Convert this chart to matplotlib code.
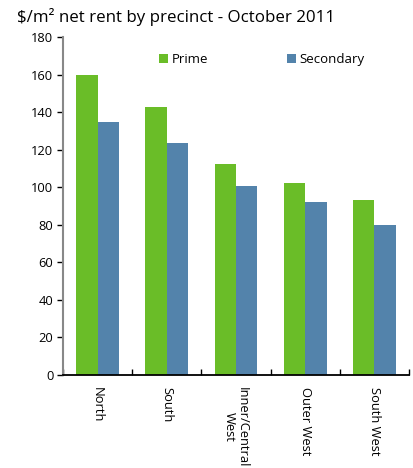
import matplotlib.pyplot as plt
import numpy as np

precincts = ["North", "South", "Inner/Central\nWest", "Outer West", "South West"]
prime = [160, 142.7, 112.2, 102.1, 93.1]
secondary = [134.6, 123.4, 100.5, 92.1, 80]
yticks = [0, 20, 40, 60, 80, 100, 120, 140, 160, 180]

green = "#6abd28"
blue = "#5383ab"

plt.rcParams["font.family"] = ["Open Sans", "DejaVu Sans"]

fig = plt.figure(figsize=(4.13, 4.68), dpi=100)
ax = fig.add_axes([63 / 413, 1 - 375 / 468, 346 / 413, 338 / 468])

x = np.arange(len(precincts))
w = 0.31
ax.bar(x - w / 2, prime, w, color=green, label="Prime")
ax.bar(x + w / 2, secondary, w, color=blue, label="Secondary")

ax.set_xlim(-0.5, len(precincts) - 0.5)
ax.set_ylim(0, 180)
ax.set_yticks(yticks)
ax.tick_params(axis="y", direction="out", length=4, width=1, labelsize=9.3, pad=3, color="black")

# category boundary ticks pointing up
ax.set_xticks(np.arange(-0.5, len(precincts), 1.0))
ax.set_xticklabels([])
ax.tick_params(axis="x", direction="in", length=4, width=1, color="black")
for xi, name in zip(x, precincts):
    ax.text(xi, -6.5, name, rotation=-90, ha="center", va="top", fontsize=9.3,
            linespacing=1.0, transform=ax.transData, clip_on=False)

ax.spines["top"].set_visible(False)
ax.spines["right"].set_visible(False)
ax.spines["left"].set_color("#888888")
ax.spines["left"].set_linewidth(1.5)
ax.spines["bottom"].set_color("black")
ax.spines["bottom"].set_linewidth(1.3)

ax.legend(loc="center", bbox_to_anchor=(0.575, 0.932), ncol=2, frameon=False,
          fontsize=9.5, handlelength=0.7, handleheight=0.7, columnspacing=5.9,
          handletextpad=0.3)

fig.text(17 / 413, 1 - 22 / 468, "$/m² net rent by precinct - October 2011",
         fontsize=12.2, ha="left", va="baseline")

fig.savefig("out.png", dpi=100)
